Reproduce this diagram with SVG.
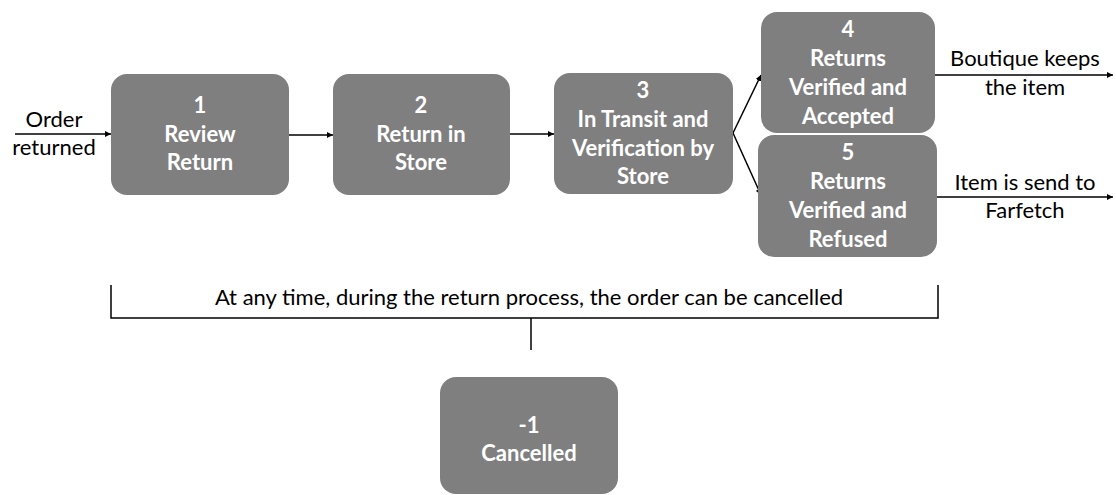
<svg xmlns="http://www.w3.org/2000/svg" width="1116" height="495" viewBox="0 0 1116 495">
<style>
.box{fill:#7f7f7f;}
.nt{font-family:Lato,"Open Sans",sans-serif;font-size:22px;font-weight:bold;fill:#ffffff;text-anchor:middle;}
.lb{font-family:Lato,"Open Sans",sans-serif;font-size:22px;fill:#000000;text-anchor:middle;}
.ln{stroke:#000;stroke-width:1.5;fill:none;}
</style>
<defs>
<marker id="ah" viewBox="0 0 10 10" refX="10" refY="5" markerWidth="6" markerHeight="6" orient="auto" markerUnits="userSpaceOnUse">
<path d="M0,0 L10,5 L0,10 z" fill="#000"/>
</marker>
</defs>
<rect width="1116" height="495" fill="#fff"/>
<g id="connectors">
<line class="ln" x1="15" y1="134" x2="111" y2="134" marker-end="url(#ah)"/>
<line class="ln" x1="289" y1="135" x2="333" y2="135" marker-end="url(#ah)"/>
<line class="ln" x1="510" y1="134" x2="554" y2="134" marker-end="url(#ah)"/>
<line class="ln" x1="733" y1="133" x2="761" y2="75" marker-end="url(#ah)"/>
<line class="ln" x1="733" y1="133" x2="761" y2="195" marker-end="url(#ah)"/>
<line class="ln" x1="934" y1="75" x2="1113" y2="75" marker-end="url(#ah)"/>
<line class="ln" x1="936" y1="197" x2="1113" y2="197" marker-end="url(#ah)"/>
<path class="ln" d="M111,285 V318 H938 V285"/>
<line class="ln" x1="531" y1="318" x2="531" y2="350"/>
</g>
<g id="labels">
<text class="lb" x="54" y="127">Order</text>
<text class="lb" x="54" y="155">returned</text>
<text class="lb" x="1025" y="66">Boutique keeps</text>
<text class="lb" x="1025" y="95">the item</text>
<text class="lb" x="1025" y="190">Item is send to</text>
<text class="lb" x="1025" y="218">Farfetch</text>
<text class="lb" x="529" y="305">At any time, during the return process, the order can be cancelled</text>
</g>
<g id="node1">
<rect class="box" x="111" y="74" width="178" height="121" rx="16"/>
<text class="nt" x="200" y="113">1</text>
<text class="nt" x="200" y="142">Review</text>
<text class="nt" x="200" y="170">Return</text>
</g>
<g id="node2">
<rect class="box" x="333" y="74" width="177" height="121" rx="16"/>
<text class="nt" x="421" y="113">2</text>
<text class="nt" x="421" y="142">Return in</text>
<text class="nt" x="421" y="170">Store</text>
</g>
<g id="node3">
<rect class="box" x="554" y="73" width="179" height="121" rx="16"/>
<text class="nt" x="643" y="98">3</text>
<text class="nt" x="643" y="127">In Transit and</text>
<text class="nt" x="643" y="156">Verification by</text>
<text class="nt" x="643" y="184">Store</text>
</g>
<g id="node4">
<rect class="box" x="761" y="12" width="174" height="121" rx="16"/>
<text class="nt" x="848" y="37">4</text>
<text class="nt" x="848" y="66">Returns</text>
<text class="nt" x="848" y="95">Verified and</text>
<text class="nt" x="848" y="124">Accepted</text>
</g>
<g id="node5">
<rect class="box" x="758" y="135" width="179" height="122" rx="16"/>
<text class="nt" x="848" y="160">5</text>
<text class="nt" x="848" y="189">Returns</text>
<text class="nt" x="848" y="218">Verified and</text>
<text class="nt" x="848" y="247">Refused</text>
</g>
<g id="node-1">
<rect class="box" x="440" y="377" width="178" height="117" rx="16"/>
<text class="nt" x="529" y="433">-1</text>
<text class="nt" x="529" y="461">Cancelled</text>
</g>
</svg>
